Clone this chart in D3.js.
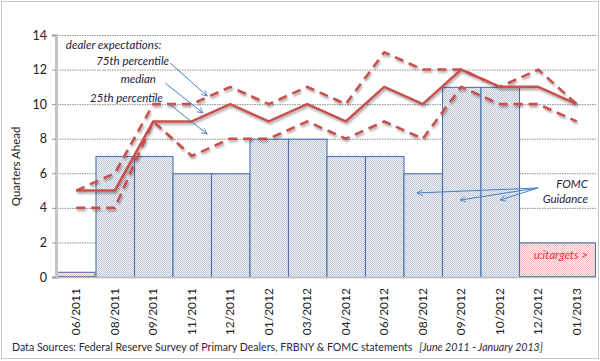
<!DOCTYPE html>
<html>
<head>
<meta charset="utf-8">
<script src="https://cdn.jsdelivr.net/npm/d3@7"></script>
<style>
  body { margin: 0; background: #fff; }
  svg { display: block; font-family: Lato, "Open Sans", sans-serif; }
</style>
</head>
<body>
<div id="chart"></div>
<script>
// Data
const categories = ["06/2011", "08/2011", "09/2011", "11/2011", "12/2011", "01/2012", "03/2012",
  "04/2012", "06/2012", "08/2012", "09/2012", "10/2012", "12/2012", "01/2013"];

// FOMC guidance (quarters ahead), null = no bar
const guidance = [null, 7, 7, 6, 6, 8, 8, 7, 7, 6, 11, 11, null, null];

// u:i targets boxes (pink)
const targets = [
  { from: "06/2011", to: "06/2011", value: 0.3 },
  { from: "12/2012", to: "01/2013", value: 2 },
];

const p75 = [5, 6, 10, 10, 11, 10, 11, 10, 13, 12, 12, 11, 12, 10];
const median = [5, 5, 9, 9, 10, 9, 10, 9, 11, 10, 12, 11, 11, 10];
const p25 = [4, 4, 9, 7, 8, 8, 9, 8, 9, 8, 11, 10, 10, 9];

const yTicks = [0, 2, 4, 6, 8, 10, 12, 14];

// annotations, in (category index, value) space
const notes = [
  { text: "dealer expectations:", x: 0.23, y: 13.2, anchor: "start" },
  { text: "75th percentile", x: 2.91, y: 12.26, anchor: "end" },
  { text: "median", x: 2.57, y: 11.22, anchor: "end" },
  { text: "25th percentile", x: 2.75, y: 10.12, anchor: "end" },
  { text: "FOMC", x: 13.79, y: 5.15, anchor: "end" },
  { text: "Guidance", x: 13.79, y: 4.28, anchor: "end" },
];
const arrows = [
  [[2.94, 12.38], [3.9, 10.47]],
  [[2.81, 11.22], [3.79, 9.49]],
  [[2.88, 10.07], [3.9, 8.27]],
  [[12.49, 5.15], [9.35, 4.86]],
  [[12.49, 5.15], [10.47, 4.45]],
  [[12.49, 5.15], [11.51, 4.45]],
];

// Dimensions
const dimensions = { width: 600, height: 361, left: 57, right: 596, top: 35, bottom: 277 };

const svg = d3.select("#chart").append("svg")
  .attr("width", dimensions.width)
  .attr("height", dimensions.height);

const defs = svg.append("defs");

const dotPattern = (id, bg, dot) => {
  const p = defs.append("pattern").attr("id", id).attr("patternUnits", "userSpaceOnUse")
    .attr("width", 2).attr("height", 2);
  p.append("rect").attr("width", 2).attr("height", 2).attr("fill", bg);
  p.append("rect").attr("width", 1).attr("height", 1).attr("fill", dot);
  p.append("rect").attr("x", 1).attr("y", 1).attr("width", 1).attr("height", 1).attr("fill", dot);
};
dotPattern("blueDots", "#f3f4f6", "#bcc5d8");
dotPattern("pinkDots", "#fbf0f0", "#f0bcbc");

const shadow = defs.append("filter").attr("id", "shadow")
  .attr("x", "-10%").attr("y", "-10%").attr("width", "120%").attr("height", "130%");
shadow.append("feGaussianBlur").attr("in", "SourceAlpha").attr("stdDeviation", 1.2).attr("result", "b");
shadow.append("feOffset").attr("dx", 1).attr("dy", 1.5).attr("result", "o");
shadow.append("feComponentTransfer").append("feFuncA").attr("type", "linear").attr("slope", 0.35);
const merge = shadow.append("feMerge");
merge.append("feMergeNode");
merge.append("feMergeNode").attr("in", "SourceGraphic");

defs.append("marker").attr("id", "arrowHead")
  .attr("viewBox", "-8 -5 10 10").attr("refX", 0).attr("refY", 0)
  .attr("markerWidth", 8).attr("markerHeight", 8).attr("markerUnits", "userSpaceOnUse")
  .attr("orient", "auto")
  .append("path").attr("d", "M-7,-3.5 L0,0 L-7,3.5")
  .attr("fill", "none").attr("stroke", "#4a7ebb").attr("stroke-width", 1);

// frame
svg.append("rect").attr("x", 1.5).attr("y", 1.5).attr("width", 597).attr("height", 357)
  .attr("fill", "#fff").attr("stroke", "#8a8a8a").attr("stroke-dasharray", "1,1");

// Scales
const xScale = d3.scaleBand().domain(categories).range([dimensions.left, dimensions.right]).padding(0);
const xIdx = d3.scaleLinear().domain([0, categories.length]).range([dimensions.left, dimensions.right]);
const yScale = d3.scaleLinear().domain([0, 14]).range([dimensions.bottom, dimensions.top]);

// Gridlines
svg.append("g")
  .selectAll("line")
  .data(yTicks.filter((d) => d > 0))
  .join("line")
  .attr("x1", dimensions.left).attr("x2", dimensions.right)
  .attr("y1", (d) => yScale(d) + 0.5).attr("y2", (d) => yScale(d) + 0.5)
  .attr("stroke", "#8c8c8c").attr("stroke-dasharray", "1.5,1");

// Bars
svg.append("g")
  .selectAll("rect")
  .data(categories.map((c, i) => ({ c, v: guidance[i] })).filter((d) => d.v !== null))
  .join("rect")
  .attr("x", (d) => xScale(d.c) + 0.5)
  .attr("y", (d) => yScale(d.v) + 0.5)
  .attr("width", xScale.bandwidth())
  .attr("height", (d) => yScale(0) - yScale(d.v))
  .attr("fill", "url(#blueDots)")
  .attr("stroke", "#4f72b0").attr("stroke-width", 1.1);

svg.append("g")
  .selectAll("rect")
  .data(targets)
  .join("rect")
  .attr("x", (d) => xScale(d.from) + 0.5)
  .attr("y", (d) => yScale(d.value) + 0.5)
  .attr("width", (d) => xScale(d.to) + xScale.bandwidth() - xScale(d.from) - 1)
  .attr("height", (d) => yScale(0) - yScale(d.value) - 1)
  .attr("fill", "url(#pinkDots)")
  .attr("stroke", "#4f72b0").attr("stroke-width", 1.1);

// Axes
const yAxis = d3.axisLeft(yScale).tickValues(yTicks).tickSize(4).tickFormat(d3.format("d"));
const yG = svg.append("g").attr("transform", `translate(${dimensions.left - 1}, 0)`).call(yAxis);
yG.select(".domain").attr("stroke", "#c4c4c4").attr("stroke-width", 3);
yG.selectAll(".tick line").attr("stroke", "#999");
yG.selectAll(".tick text").attr("x", -9).attr("font-size", 12.5).attr("fill", "#222")
  .attr("font-family", "Lato, sans-serif");

svg.append("line")
  .attr("x1", dimensions.left).attr("x2", dimensions.right)
  .attr("y1", yScale(0) + 0.5).attr("y2", yScale(0) + 0.5)
  .attr("stroke", "#bdbdbd").attr("stroke-width", 1.5);

const xAxis = d3.axisBottom(xScale).tickSize(0);
const xG = svg.append("g").attr("transform", `translate(0, ${dimensions.bottom})`).call(xAxis);
xG.select(".domain").remove();
xG.selectAll(".tick text")
  .attr("transform", "rotate(-90)")
  .attr("text-anchor", "end")
  .attr("dy", "0.35em")
  .attr("x", -11).attr("y", 0)
  .attr("font-size", 12).attr("fill", "#222")
  .attr("font-family", "Lato, sans-serif");

svg.append("text")
  .attr("transform", `translate(20, ${yScale(6.4)}) rotate(-90)`)
  .attr("text-anchor", "middle")
  .attr("font-size", 11.5).attr("fill", "#222")
  .text("Quarters Ahead");

// Lines
const lineGen = d3.line()
  .x((d, i) => xScale(categories[i]) + xScale.bandwidth() / 2)
  .y((d) => yScale(d));

const series = [
  { values: p75, dash: "9,6" },
  { values: p25, dash: "9,6" },
  { values: median, dash: null },
];
svg.append("g").attr("filter", "url(#shadow)")
  .selectAll("path")
  .data(series)
  .join("path")
  .attr("d", (d) => lineGen(d.values))
  .attr("fill", "none")
  .attr("stroke", "#c8514e")
  .attr("stroke-width", 2.6)
  .attr("stroke-linejoin", "round")
  .attr("stroke-dasharray", (d) => d.dash);

// Annotations
svg.append("g")
  .selectAll("text")
  .data(notes)
  .join("text")
  .attr("x", (d) => xIdx(d.x))
  .attr("y", (d) => yScale(d.y))
  .attr("text-anchor", (d) => d.anchor)
  .attr("font-size", 11.5).attr("font-style", "italic").attr("fill", "#1c2340")
  .text((d) => d.text);

svg.append("text")
  .attr("x", xIdx(13.79)).attr("y", yScale(1.04))
  .attr("text-anchor", "end")
  .attr("font-size", 11.5).attr("font-style", "italic").attr("fill", "#e0323c")
  .text("u:itargets >");

svg.append("g")
  .selectAll("line")
  .data(arrows)
  .join("line")
  .attr("x1", (d) => xIdx(d[0][0])).attr("y1", (d) => yScale(d[0][1]))
  .attr("x2", (d) => xIdx(d[1][0])).attr("y2", (d) => yScale(d[1][1]))
  .attr("stroke", "#4a7ebb").attr("stroke-width", 1)
  .attr("marker-end", "url(#arrowHead)");

// Source
const src = svg.append("text").attr("x", 12).attr("y", 351)
  .attr("font-size", 10.6).attr("fill", "#2a2a3a");
src.append("tspan").text("Data Sources: Federal Reserve Survey of Primary Dealers, FRBNY & FOMC statements ");
src.append("tspan").attr("dx", 4).attr("font-style", "italic").text("[June 2011 - January 2013]");
</script>
</body>
</html>
